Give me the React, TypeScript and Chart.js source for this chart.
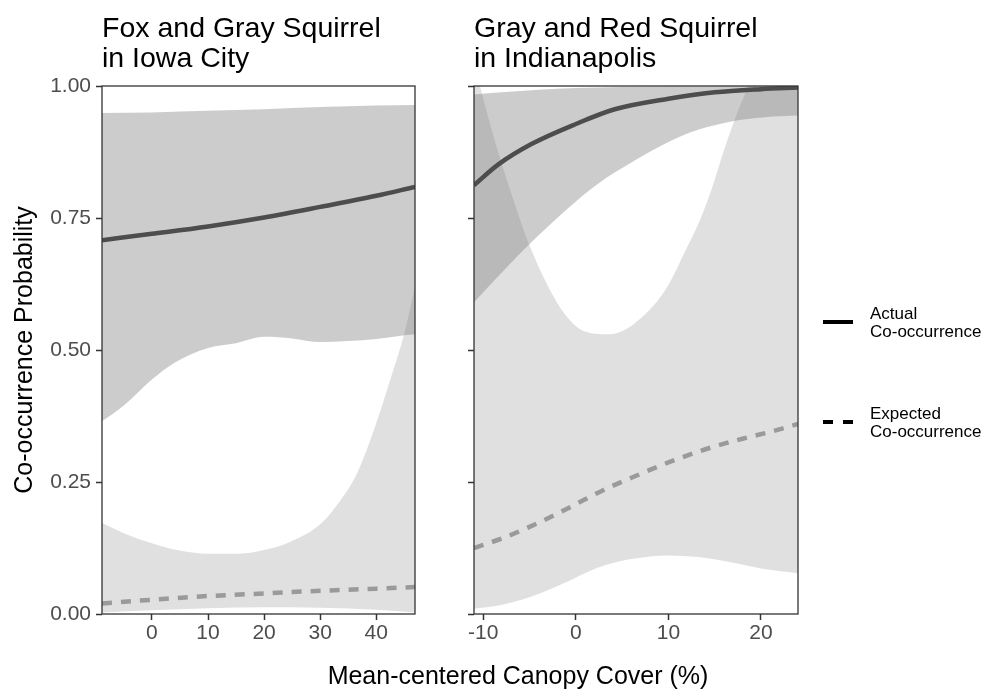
import React, { useEffect, useRef } from "react";
import { Chart, registerables } from "chart.js";

Chart.register(...registerables);

const FONT = "'Liberation Sans', Arial, Helvetica, sans-serif";
const W = 985;
const H = 693;

// ---------- shared ----------
const yTicks = [0, 0.25, 0.5, 0.75, 1];
const yAxisTitle = "Co-occurrence Probability";
const xAxisTitle = "Mean-centered Canopy Cover (%)";
const legendActual = ["Actual", "Co-occurrence"];
const legendExpected = ["Expected", "Co-occurrence"];

// ---------- left panel: Fox and Gray Squirrel in Iowa City ----------
const leftTitle = ["Fox and Gray Squirrel", "in Iowa City"];
const leftXRange = [-8.9, 46.9];
const leftXTicks = [0, 10, 20, 30, 40];

const leftActualX = [-8.9, 0, 10, 20, 30, 40, 46.9];
const leftActualY = [0.708, 0.72, 0.734, 0.751, 0.771, 0.792, 0.809];

const leftActualUpX = [-8.9, 0, 10, 20, 30, 40, 46.9];
const leftActualUpY = [0.949, 0.95, 0.953, 0.956, 0.96, 0.963, 0.964];
const leftActualLoX = [-8.9, -5, 0, 4, 10, 15, 20, 25, 30, 35, 40, 45, 46.9];
const leftActualLoY = [0.365, 0.395, 0.444, 0.476, 0.504, 0.513, 0.525, 0.522, 0.515, 0.517, 0.521, 0.528, 0.53];

const leftExpectedX = [-8.9, 0, 10, 20, 30, 40, 46.9];
const leftExpectedY = [0.02, 0.027, 0.034, 0.039, 0.044, 0.048, 0.051];

const leftExpectedUpX = [-8.9, -5, 0, 4.5, 10, 15, 20, 24.7, 30, 33.6, 36.6, 39.5, 42.5, 44.9, 46.9];
const leftExpectedUpY = [0.173, 0.153, 0.134, 0.121, 0.114, 0.114, 0.121, 0.137, 0.17, 0.215, 0.267, 0.346, 0.444, 0.528, 0.62];
const leftExpectedLoX = [-8.9, 0, 10, 20, 30, 40, 46.9];
const leftExpectedLoY = [0.003, 0.007, 0.011, 0.013, 0.012, 0.008, 0.003];

// ---------- right panel: Gray and Red Squirrel in Indianapolis ----------
const rightTitle = ["Gray and Red Squirrel", "in Indianapolis"];
const rightXRange = [-11, 24];
const rightXTicks = [-10, 0, 10, 20];

const rightActualX = [-11, -8.4, -4.8, 0, 4.2, 10, 15, 20, 24];
const rightActualY = [0.812, 0.851, 0.89, 0.928, 0.956, 0.976, 0.988, 0.994, 0.997];

const rightActualUpX = [-11, -8, -4, 0, 5, 10, 24];
const rightActualUpY = [0.984, 0.988, 0.993, 0.996, 0.998, 0.999, 1.0];
const rightActualLoX = [-11, -8.4, -4.8, -1.2, 2.4, 6, 10, 13.2, 16.8, 20.4, 24];
const rightActualLoY = [0.59, 0.639, 0.704, 0.763, 0.815, 0.855, 0.894, 0.917, 0.933, 0.941, 0.944];

const rightExpectedX = [-11, -8, -5, -2, 0, 3, 6, 10, 14, 18, 21, 24];
const rightExpectedY = [0.125, 0.143, 0.165, 0.19, 0.208, 0.235, 0.258, 0.287, 0.312, 0.332, 0.345, 0.36];

const rightExpectedUpX = [-11, -10.35, -8.37, -6.58, -5.14, -2.98, -1.19, 0.61, 3.49, 5.28, 7.08, 8.88, 10.31, 11.75, 13.19, 14.62, 16.06, 17.5, 18.58, 20, 24];
const rightExpectedUpY = [1.05, 1.0, 0.874, 0.776, 0.704, 0.62, 0.568, 0.538, 0.53, 0.538, 0.561, 0.594, 0.633, 0.685, 0.737, 0.802, 0.881, 0.952, 1.0, 1.08, 1.3];
const rightExpectedLoX = [-11, -8.37, -4.78, -1.19, 2.41, 6, 10, 13.19, 16.78, 20.37, 24];
const rightExpectedLoY = [0.01, 0.016, 0.033, 0.059, 0.088, 0.104, 0.111, 0.108, 0.098, 0.085, 0.077];

// ---------- helpers ----------
const pts = (xs: number[], ys: number[]) => xs.map((x, i) => ({ x, y: ys[i] }));

const ACTUAL_LINE = "#4d4d4d";
const EXPECTED_LINE = "#9a9a9a";
const ACTUAL_FILL = "rgba(128,128,128,0.40)";
const EXPECTED_FILL = "rgba(128,128,128,0.244)";
const TICK_COLOR = "#333333";
const TICK_TEXT = "#4d4d4d";

function buildDatasets(p: any) {
  const base = { pointRadius: 0, pointHoverRadius: 0, cubicInterpolationMode: "monotone" as const };
  return [
    { ...base, label: "Actual", data: pts(p.ax, p.ay), borderColor: ACTUAL_LINE, borderWidth: 4.5, fill: false, borderCapStyle: "butt" },
    { ...base, label: "Expected", data: pts(p.ex, p.ey), borderColor: EXPECTED_LINE, borderWidth: 4.5, borderDash: [10, 9], borderCapStyle: "butt", fill: false },
    { ...base, label: "Actual lower", data: pts(p.alx, p.aly), borderColor: "rgba(0,0,0,0)", borderWidth: 0, fill: false },
    { ...base, label: "Actual upper", data: pts(p.aux, p.auy), borderColor: "rgba(0,0,0,0)", borderWidth: 0, fill: 2, backgroundColor: ACTUAL_FILL },
    { ...base, label: "Expected lower", data: pts(p.elx, p.ely), borderColor: "rgba(0,0,0,0)", borderWidth: 0, fill: false },
    { ...base, label: "Expected upper", data: pts(p.eux, p.euy), borderColor: "rgba(0,0,0,0)", borderWidth: 0, fill: 4, backgroundColor: EXPECTED_FILL },
  ];
}

function drawLines(ctx: CanvasRenderingContext2D, lines: string[], x: number, y0: number, step: number, font: string, color: string) {
  ctx.font = font;
  ctx.fillStyle = color;
  ctx.textAlign = "left";
  ctx.textBaseline = "alphabetic";
  lines.forEach((t, i) => ctx.fillText(t, x, y0 + i * step));
}

function makeConfig(p: any, extraDraw: (ctx: CanvasRenderingContext2D, chart: any) => void): any {
  const decor = {
    id: "decor",
    afterDraw(chart: any) {
      const ctx = chart.ctx as CanvasRenderingContext2D;
      const a = chart.chartArea;
      ctx.save();
      ctx.strokeStyle = "#333333";
      ctx.lineWidth = 1.3;
      ctx.strokeRect(a.left, a.top, a.right - a.left, a.bottom - a.top);
      drawLines(ctx, p.title, a.left, 37, 30, `28.5px ${FONT}`, "#000000");
      extraDraw(ctx, chart);
      ctx.restore();
    },
  };
  return {
    type: "line",
    data: { datasets: buildDatasets(p) },
    plugins: [decor],
    options: {
      responsive: false,
      animation: false,
      events: [],
      layout: { padding: p.padding },
      plugins: { legend: { display: false }, tooltip: { enabled: false }, title: { display: false } },
      scales: {
        x: {
          type: "linear",
          min: p.xRange[0],
          max: p.xRange[1],
          afterBuildTicks: (s: any) => {
            s.ticks = p.xTicks.map((v: number) => ({ value: v }));
          },
          afterFit: (s: any) => {
            s.height = 40;
          },
          ticks: {
            autoSkip: false,
            maxRotation: 0,
            padding: 1,
            color: TICK_TEXT,
            font: { family: FONT, size: 21 },
            callback: (v: any) => String(v),
          },
          grid: { display: true, drawOnChartArea: false, drawTicks: true, tickLength: 6, tickColor: TICK_COLOR, tickWidth: 1.5 },
          border: { display: false },
        },
        y: {
          type: "linear",
          min: 0,
          max: 1,
          afterBuildTicks: (s: any) => {
            s.ticks = yTicks.map((v) => ({ value: v }));
          },
          afterFit: (s: any) => {
            s.width = p.yWidth;
          },
          ticks: {
            display: p.yLabels,
            padding: 5,
            color: TICK_TEXT,
            font: { family: FONT, size: 21 },
            callback: (v: any) => Number(v).toFixed(2),
          },
          grid: { display: true, drawOnChartArea: false, drawTicks: true, tickLength: 6, tickColor: TICK_COLOR, tickWidth: 1.5 },
          border: { display: false },
        },
      },
    },
  };
}

const leftPanel = {
  title: leftTitle,
  xRange: leftXRange,
  xTicks: leftXTicks,
  ax: leftActualX, ay: leftActualY,
  aux: leftActualUpX, auy: leftActualUpY,
  alx: leftActualLoX, aly: leftActualLoY,
  ex: leftExpectedX, ey: leftExpectedY,
  eux: leftExpectedUpX, euy: leftExpectedUpY,
  elx: leftExpectedLoX, ely: leftExpectedLoY,
  padding: { left: 0, right: W - 415, top: 86, bottom: 39 },
  yWidth: 102,
  yLabels: true,
};

const rightPanel = {
  title: rightTitle,
  xRange: rightXRange,
  xTicks: rightXTicks,
  ax: rightActualX, ay: rightActualY,
  aux: rightActualUpX, auy: rightActualUpY,
  alx: rightActualLoX, aly: rightActualLoY,
  ex: rightExpectedX, ey: rightExpectedY,
  eux: rightExpectedUpX, euy: rightExpectedUpY,
  elx: rightExpectedLoX, ely: rightExpectedLoY,
  padding: { left: 454, right: W - 798, top: 86, bottom: 39 },
  yWidth: 20,
  yLabels: false,
};

export default function App() {
  const leftRef = useRef<HTMLCanvasElement | null>(null);
  const rightRef = useRef<HTMLCanvasElement | null>(null);

  useEffect(() => {
    const left = new Chart(
      leftRef.current as HTMLCanvasElement,
      makeConfig(leftPanel, (ctx, chart) => {
        const a = chart.chartArea;
        ctx.save();
        ctx.translate(32, (a.top + a.bottom) / 2);
        ctx.rotate(-Math.PI / 2);
        ctx.font = `25px ${FONT}`;
        ctx.fillStyle = "#000000";
        ctx.textAlign = "center";
        ctx.textBaseline = "alphabetic";
        ctx.fillText(yAxisTitle, 0, 0);
        ctx.restore();
      })
    );
    const right = new Chart(
      rightRef.current as HTMLCanvasElement,
      makeConfig(rightPanel, (ctx) => {
        // x axis title
        ctx.font = `25px ${FONT}`;
        ctx.fillStyle = "#000000";
        ctx.textAlign = "center";
        ctx.textBaseline = "alphabetic";
        ctx.fillText(xAxisTitle, 518, 684);
        // legend
        ctx.strokeStyle = "#000000";
        ctx.lineWidth = 4;
        ctx.lineCap = "butt";
        ctx.setLineDash([]);
        ctx.beginPath();
        ctx.moveTo(823, 322);
        ctx.lineTo(853, 322);
        ctx.stroke();
        ctx.setLineDash([10, 10]);
        ctx.beginPath();
        ctx.moveTo(823, 422);
        ctx.lineTo(853, 422);
        ctx.stroke();
        ctx.setLineDash([]);
        drawLines(ctx, legendActual, 870, 318.5, 18.5, `17px ${FONT}`, "#000000");
        drawLines(ctx, legendExpected, 870, 418.5, 18.5, `17px ${FONT}`, "#000000");
      })
    );
    return () => {
      left.destroy();
      right.destroy();
    };
  }, []);

  const cstyle: React.CSSProperties = { position: "absolute", left: 0, top: 0, width: W, height: H };
  return (
    <div style={{ position: "absolute", left: 0, top: 0, width: W, height: H, background: "#ffffff" }}>
      <canvas ref={leftRef} width={W} height={H} style={cstyle} />
      <canvas ref={rightRef} width={W} height={H} style={cstyle} />
    </div>
  );
}
